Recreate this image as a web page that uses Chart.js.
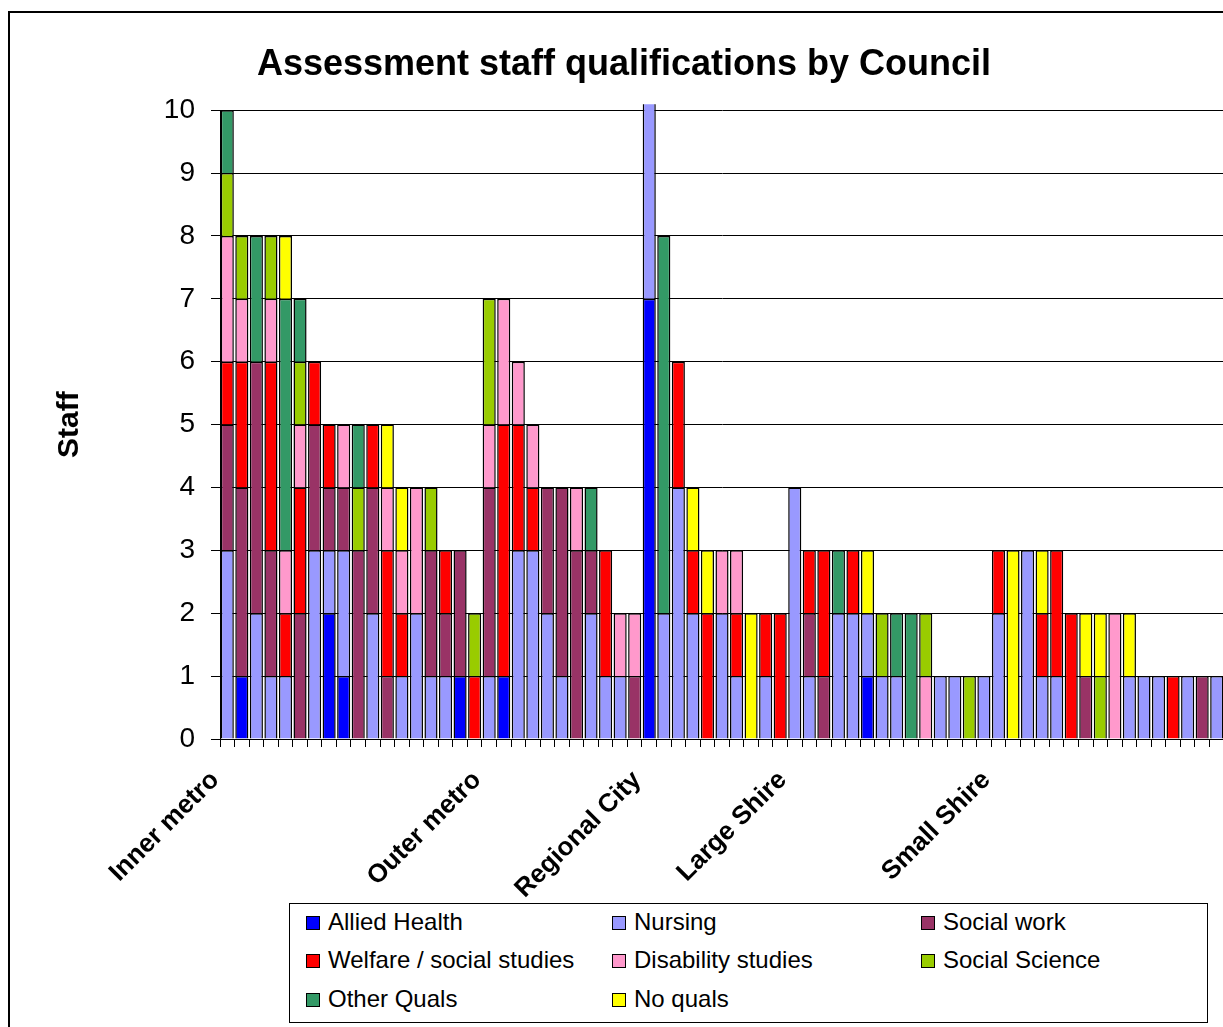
<!DOCTYPE html>
<html>
<head>
<meta charset="utf-8">
<script src="https://cdn.jsdelivr.net/npm/chart.js@4.4.1/dist/chart.umd.min.js"></script>
<style>
    body { margin: 0; overflow: hidden; background: #fff; width: 1223px; height: 1027px; }
    .frame { position: absolute; left: 8px; top: 11px; width: 1400px; height: 1100px; border: 2px solid #000; }
    #myChart { position: absolute; left: 0; top: 0; }
    .legend_box {
        position: absolute; left: 289px; top: 903px; width: 917px; height: 118px;
        border: 1px solid #000; background: #fff;
        font-family: 'Liberation Sans', Arial, sans-serif; font-size: 24px; color: #000;
    }
    .legend_item { position: absolute; height: 28px; line-height: 28px; white-space: nowrap; }
    .legend_item span { display: inline-block; width: 12px; height: 12px; border: 1px solid #000; margin-right: 8px; vertical-align: 0px; }
</style>
</head>
<body>
<div class="frame"></div>
<canvas id="myChart" width="1224" height="1027"></canvas>
<div class="legend_box"></div>

<script>
let groups = ['Inner metro', 'Outer metro', 'Regional City', 'Large Shire', 'Small Shire']
let groupSizes = [18, 11, 10, 14, 16]

let allied = [0,1,0,0,0,0,0,2,1,0, 0,0,0,0,0,0,1,0,0,1, 0,0,0,0,0,0,0,0,0,7, 0,0,0,0,0,0,0,0,0,0, 0,0,0,0,1,0,0,0,0,0, 0,0,0,0,0,0,0,0,0,0, 0,0,0,0,0,0,0,0,0]
let nursing = [3,0,2,1,1,0,3,1,2,0, 2,0,1,2,1,1,0,0,1,0, 3,3,2,1,0,2,1,1,0,4, 2,4,2,0,2,1,0,1,0,4, 1,0,2,2,1,1,1,0,0,1, 1,0,1,2,0,3,1,1,0,0, 0,0,1,1,1,0,1,0,1]
let socialWork = [2,3,4,2,0,2,2,1,1,3, 2,1,0,0,2,1,2,0,3,0, 0,0,2,3,3,1,0,0,1,0, 0,0,0,0,0,0,0,0,0,0, 1,1,0,0,0,0,0,0,0,0, 0,0,0,0,0,0,0,0,0,1, 0,0,0,0,0,0,0,1,0]
let welfare = [1,2,0,3,1,2,1,1,0,0, 1,2,1,0,0,1,0,1,0,4, 2,1,0,0,0,0,2,0,0,0, 0,2,1,2,0,1,0,1,2,0, 1,2,0,1,0,0,0,0,0,0, 0,0,0,1,0,0,1,2,2,0, 0,0,0,0,0,1,0,0,0]
let disability = [2,1,0,1,1,1,0,0,1,0, 0,1,1,2,0,0,0,0,1,2, 1,1,0,0,1,0,0,1,1,0, 0,0,0,0,1,1,0,0,0,0, 0,0,0,0,0,0,0,0,1,0, 0,0,0,0,0,0,0,0,0,0, 0,2,0,0,0,0,0,0,0]
let socialScience = [1,1,0,1,0,1,0,0,0,1, 0,0,0,0,1,0,0,1,2,0, 0,0,0,0,0,0,0,0,0,0, 0,0,0,0,0,0,0,0,0,0, 0,0,0,0,0,1,0,0,1,0, 0,1,0,0,0,0,0,0,0,0, 1,0,0,0,0,0,0,0,0]
let otherQuals = [1,0,2,0,4,1,0,0,0,1, 0,0,0,0,0,0,0,0,0,0, 0,0,0,0,0,1,0,0,0,0, 6,0,0,0,0,0,0,0,0,0, 0,0,1,0,0,0,1,2,0,0, 0,0,0,0,0,0,0,0,0,0, 0,0,0,0,0,0,0,0,0]
let noQuals = [0,0,0,0,1,0,0,0,0,0, 0,1,1,0,0,0,0,0,0,0, 0,0,0,0,0,0,0,0,0,0, 0,0,1,1,0,0,2,0,0,0, 0,0,0,0,1,0,0,0,0,0, 0,0,0,0,3,0,1,0,0,1, 1,0,1,0,0,0,0,0,0]

let seriesNames = ['Allied Health', 'Nursing', 'Social work', 'Welfare / social studies', 'Disability studies', 'Social Science', 'Other Quals', 'No quals']
let seriesColors = ['#0000FF', '#9999FF', '#993366', '#FF0000', '#FF99CC', '#99CC00', '#339966', '#FFFF00']
let seriesData = [allied, nursing, socialWork, welfare, disability, socialScience, otherQuals, noQuals]

let yTicks = [0, 1, 2, 3, 4, 5, 6, 7, 8, 9, 10]

// one label per council, only the first council of each group is named
let labels = []
groups.forEach((g, i) => {
    for (let k = 0; k < groupSizes[i]; k++) labels.push(k === 0 ? g : '')
})

let font = "'Liberation Sans', Arial, sans-serif"
const ctx = document.getElementById('myChart')

let chart = new Chart(ctx, {
    type: 'bar',
    data: {
        labels: labels,
        datasets: seriesNames.map((name, i) => ({
            label: name,
            data: seriesData[i],
            backgroundColor: seriesColors[i],
            borderColor: '#000',
            borderWidth: 1.5,
            categoryPercentage: 1,
            barPercentage: 0.9,
            clip: { left: 2, top: 6, right: 2, bottom: 0 }
        }))
    },
    options: {
        responsive: false,
        animation: false,
        layout: { padding: { left: 24, right: 0, top: 0, bottom: 0 } },
        plugins: {
            legend: { display: false },
            tooltip: { enabled: false },
            title: {
                display: true,
                text: 'Assessment staff qualifications by Council',
                color: '#000',
                font: { family: font, size: 36, weight: 'bold' },
                padding: { top: 43, bottom: 24 }
            }
        },
        scales: {
            x: {
                stacked: true,
                grid: { offset: true, drawOnChartArea: false, drawTicks: true, tickLength: 8, color: '#000' },
                border: { color: '#000', width: 1 },
                ticks: {
                    autoSkip: false,
                    minRotation: 45,
                    maxRotation: 45,
                    padding: 18,
                    labelOffset: -12,
                    color: '#000',
                    font: { family: font, size: 26, weight: 'bold' }
                },
                afterFit: (s) => {
                    s.height = 1027 - 739
                    // plot runs to the right edge like the original (cut off there)
                    s.paddingRight = 0
                }
            },
            y: {
                stacked: true,
                min: yTicks[0],
                max: yTicks[yTicks.length - 1],
                afterBuildTicks: (s) => { s.ticks = yTicks.map(v => ({ value: v })) },
                grid: { color: '#000', tickLength: 9 },
                border: { color: '#000', width: 1 },
                ticks: { padding: 16, color: '#000', font: { family: font, size: 28 } },
                title: {
                    display: true,
                    text: 'Staff',
                    color: '#000',
                    font: { family: font, size: 30, weight: 'bold' },
                    padding: { top: 28, bottom: 0 }
                },
                afterFit: (s) => { s.width = 196 }
            }
        }
    }
})

// legend in 3 columns like the original
let legend_box = document.querySelector('.legend_box')
let colX = [16, 322, 631]
let rowY = [4, 42, 81]
chart.data.datasets.forEach((ds, i) => {
    let item = document.createElement('div')
    let box = document.createElement('span')
    item.classList.add('legend_item')
    box.style.background = ds.backgroundColor
    item.style.left = colX[i % 3] + 'px'
    item.style.top = rowY[Math.floor(i / 3)] + 'px'
    item.append(box, ds.label)
    legend_box.append(item)
})
</script>
</body>
</html>
